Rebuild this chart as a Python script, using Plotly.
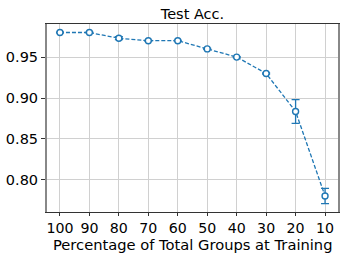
import plotly.graph_objects as go

categories = ["100", "90", "80", "70", "60", "50", "40", "30", "20", "10"]
acc = [0.980, 0.980, 0.973, 0.970, 0.970, 0.960, 0.950, 0.930, 0.8836, 0.7804]
err = [0.0005, 0.0005, 0.0018, 0.0005, 0.0005, 0.0005, 0.0005, 0.0008, 0.0145, 0.0093]
y_ticks = [0.80, 0.85, 0.90, 0.95]
y_ticklabels = ["0.80", "0.85", "0.90", "0.95"]
title_text = "Test Acc."
x_title_text = "Percentage of Total Groups at Training"

blue = "#1f77b4"
font = "DejaVu Sans"
L, R, T, B = 47, 8, 24, 47
W, H = 346, 259
ph = H - T - B

fig = go.Figure()
fig.add_trace(go.Scatter(
    x=list(range(len(categories))), y=acc,
    mode="lines+markers",
    line=dict(color=blue, width=1.3, dash="4px,2px"),
    marker=dict(symbol="circle", size=6, color="white", line=dict(width=1.4, color=blue)),
    error_y=dict(type="data", array=err, visible=True, color=blue, thickness=1.3, width=4),
    showlegend=False, cliponaxis=False,
))

fig.update_layout(
    width=W, height=H,
    margin=dict(l=L, r=R, t=T, b=B, autoexpand=False),
    paper_bgcolor="white", plot_bgcolor="white",
    title=dict(text=title_text, x=(L + W - R) / 2 / W, xanchor="center", y=1 - 14 / H, yanchor="middle",
               font=dict(family=font, size=14.5, color="black")),
    font=dict(family=font, color="black"),
)
fig.add_annotation(
    text=x_title_text, xref="paper", yref="paper", x=0.5, y=-(244.5 - (H - B)) / ph,
    xanchor="center", yanchor="middle", showarrow=False,
    font=dict(family=font, size=14.7, color="black"),
)
fig.update_xaxes(
    tickmode="array", tickvals=list(range(len(categories))), ticktext=categories,
    range=[-0.44, 9.44], automargin=False,
    showgrid=True, gridcolor="#d0d0d0", gridwidth=1,
    showline=True, linecolor="#333333", linewidth=1.2, mirror=True,
    ticks="outside", ticklen=3, tickcolor="#333333", tickwidth=1,
    tickfont=dict(family=font, size=14.2, color="black"),
    zeroline=False,
)
fig.update_yaxes(
    tickmode="array", tickvals=y_ticks, ticktext=y_ticklabels,
    range=[0.7608, 0.9904], automargin=False,
    showgrid=True, gridcolor="#d0d0d0", gridwidth=1,
    showline=True, linecolor="#888888", linewidth=2, mirror=True,
    ticks="outside", ticklen=4, tickcolor="#333333", tickwidth=1,
    tickfont=dict(family=font, size=14.5, color="black"),
    zeroline=False,
)
fig.write_html("out.html", post_script="document.body.style.margin='0';document.body.style.overflow='hidden';",
               config={"displayModeBar": False})
